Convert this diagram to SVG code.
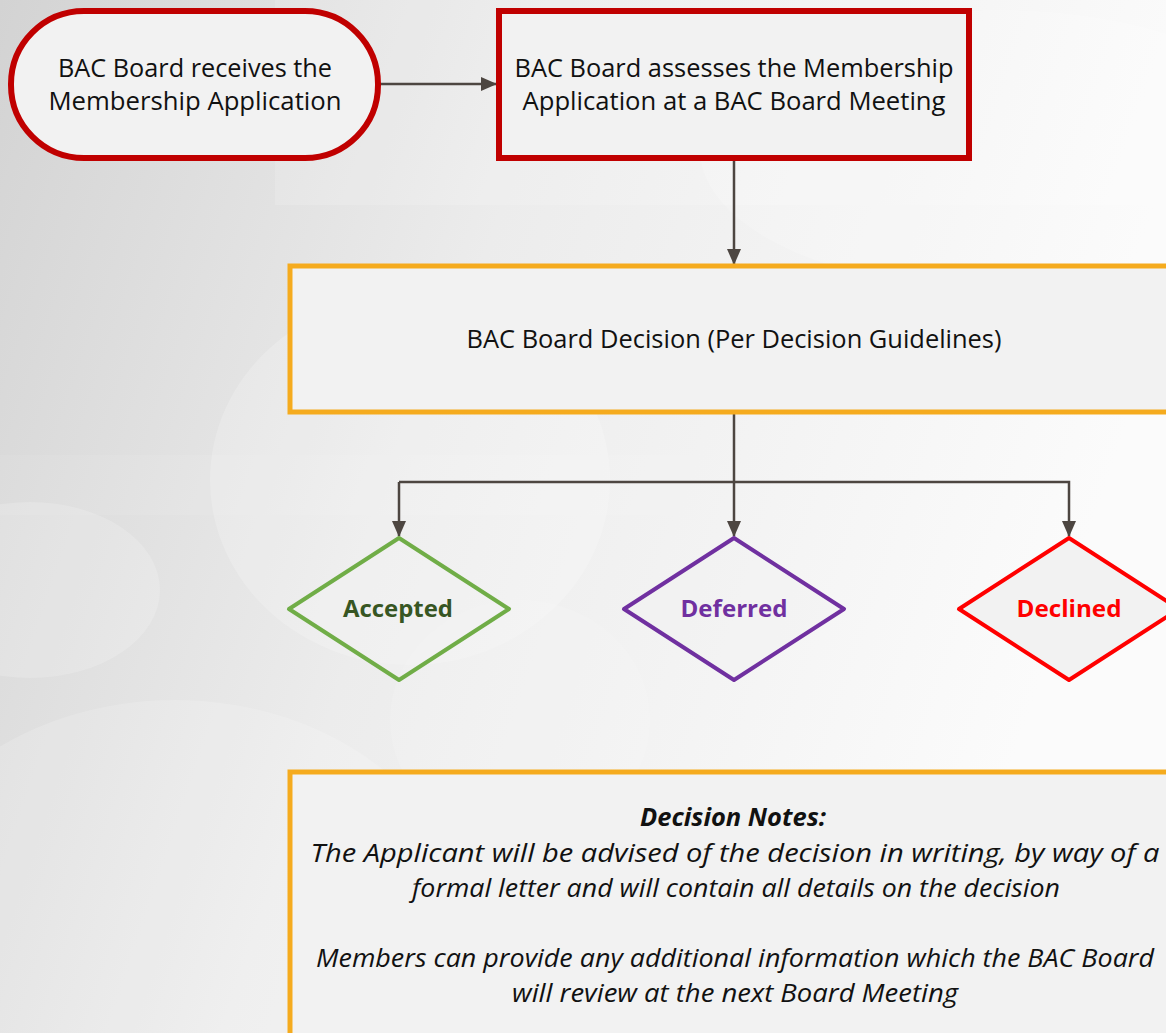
<svg xmlns="http://www.w3.org/2000/svg" width="1166" height="1033" viewBox="0 0 1166 1033">
<defs>
<linearGradient id="bg" x1="0" y1="0" x2="1" y2="0.3">
<stop offset="0" stop-color="#d3d3d3"/>
<stop offset="0.45" stop-color="#ececec"/>
<stop offset="1" stop-color="#fbfbfb"/>
</linearGradient>
<marker id="ah" markerUnits="userSpaceOnUse" markerWidth="16" markerHeight="16" viewBox="0 0 16 16" refX="15" refY="8" orient="auto">
<path d="M0,1 L16,8 L0,15 Z" fill="#4d4641"/>
</marker>
<style>
.txt{font-family:"Open Sans","Noto Sans",sans-serif;font-size:25px;fill:#111;text-anchor:middle}
.lbl{font-family:"Open Sans","Noto Sans",sans-serif;font-size:24px;font-weight:bold;text-anchor:middle}
.note{font-family:"Open Sans","Noto Sans",sans-serif;font-size:25px;font-style:italic;fill:#111;text-anchor:middle}
.box{fill:#f2f2f2}
.red{stroke:#c00000;stroke-width:6}
.org{stroke:#f5ab1e;stroke-width:5}
.con{fill:none;stroke:#4d4641;stroke-width:2.5}
</style>
</defs>
<rect width="1166" height="1033" fill="url(#bg)"/>
<g id="background" fill="#ffffff">
<rect x="275" y="0" width="891" height="205" opacity="0.15"/>
<rect x="0" y="455" width="1166" height="60" opacity="0.07"/>
<ellipse cx="410" cy="480" rx="200" ry="185" opacity="0.2"/>
<ellipse cx="30" cy="590" rx="130" ry="88" opacity="0.18"/>
<ellipse cx="175" cy="930" rx="290" ry="230" opacity="0.16"/>
<ellipse cx="520" cy="720" rx="130" ry="120" opacity="0.13"/>
<ellipse cx="1000" cy="150" rx="300" ry="140" opacity="0.18"/>
</g>
<g id="connectors">
<line class="con" x1="380" y1="84" x2="496" y2="84" marker-end="url(#ah)"/>
<line class="con" x1="734" y1="161" x2="734" y2="264" marker-end="url(#ah)"/>
<line class="con" x1="734" y1="414" x2="734" y2="536" marker-end="url(#ah)"/>
<polyline class="con" points="399,482 1069,482 1069,536" marker-end="url(#ah)"/>
<line class="con" x1="399" y1="482" x2="399" y2="536" marker-end="url(#ah)"/>
</g>
<g id="n1">
<rect class="box red" x="11" y="11" width="367" height="147" rx="73"/>
<text class="txt" x="195" y="77" textLength="274" lengthAdjust="spacingAndGlyphs">BAC Board receives the</text>
<text class="txt" x="195" y="110" textLength="293" lengthAdjust="spacingAndGlyphs">Membership Application</text>
</g>
<g id="n2">
<rect class="box red" x="499" y="11" width="470" height="147"/>
<text class="txt" x="734" y="77" textLength="439" lengthAdjust="spacingAndGlyphs">BAC Board assesses the Membership</text>
<text class="txt" x="734" y="110" textLength="423" lengthAdjust="spacingAndGlyphs">Application at a BAC Board Meeting</text>
</g>
<g id="n3">
<rect class="box org" x="290" y="266" width="890" height="146"/>
<text class="txt" x="734" y="348" textLength="535" lengthAdjust="spacingAndGlyphs">BAC Board Decision (Per Decision Guidelines)</text>
</g>
<g id="accepted">
<polygon points="399,538 509,609 399,680 289,609" fill="#f2f2f2" fill-opacity="0.5" stroke="#70ad47" stroke-width="4" stroke-linejoin="round"/>
<text class="lbl" x="398" y="617" fill="#375623" textLength="110" lengthAdjust="spacingAndGlyphs">Accepted</text>
</g>
<g id="deferred">
<polygon points="734,538 844,609 734,680 624,609" fill="#f2f2f2" fill-opacity="0.5" stroke="#7030a0" stroke-width="4" stroke-linejoin="round"/>
<text class="lbl" x="734" y="617" fill="#7030a0" textLength="107" lengthAdjust="spacingAndGlyphs">Deferred</text>
</g>
<g id="declined">
<polygon points="1069,538 1179,609 1069,680 959,609" fill="#f2f2f2" stroke="#ff0000" stroke-width="4" stroke-linejoin="round"/>
<text class="lbl" x="1069" y="617" fill="#ff0000" textLength="105" lengthAdjust="spacingAndGlyphs">Declined</text>
</g>
<g id="notes">
<rect class="box org" x="290" y="772" width="890" height="280"/>
<text class="note" x="733" y="826" font-weight="bold" textLength="186" lengthAdjust="spacingAndGlyphs">Decision Notes:</text>
<text class="note" x="735" y="862" textLength="849" lengthAdjust="spacingAndGlyphs">The Applicant will be advised of the decision in writing, by way of a</text>
<text class="note" x="736" y="897" textLength="648" lengthAdjust="spacingAndGlyphs">formal letter and will contain all details on the decision</text>
<text class="note" x="735" y="967" textLength="838" lengthAdjust="spacingAndGlyphs">Members can provide any additional information which the BAC Board</text>
<text class="note" x="735" y="1002" textLength="446" lengthAdjust="spacingAndGlyphs">will review at the next Board Meeting</text>
</g>
</svg>
